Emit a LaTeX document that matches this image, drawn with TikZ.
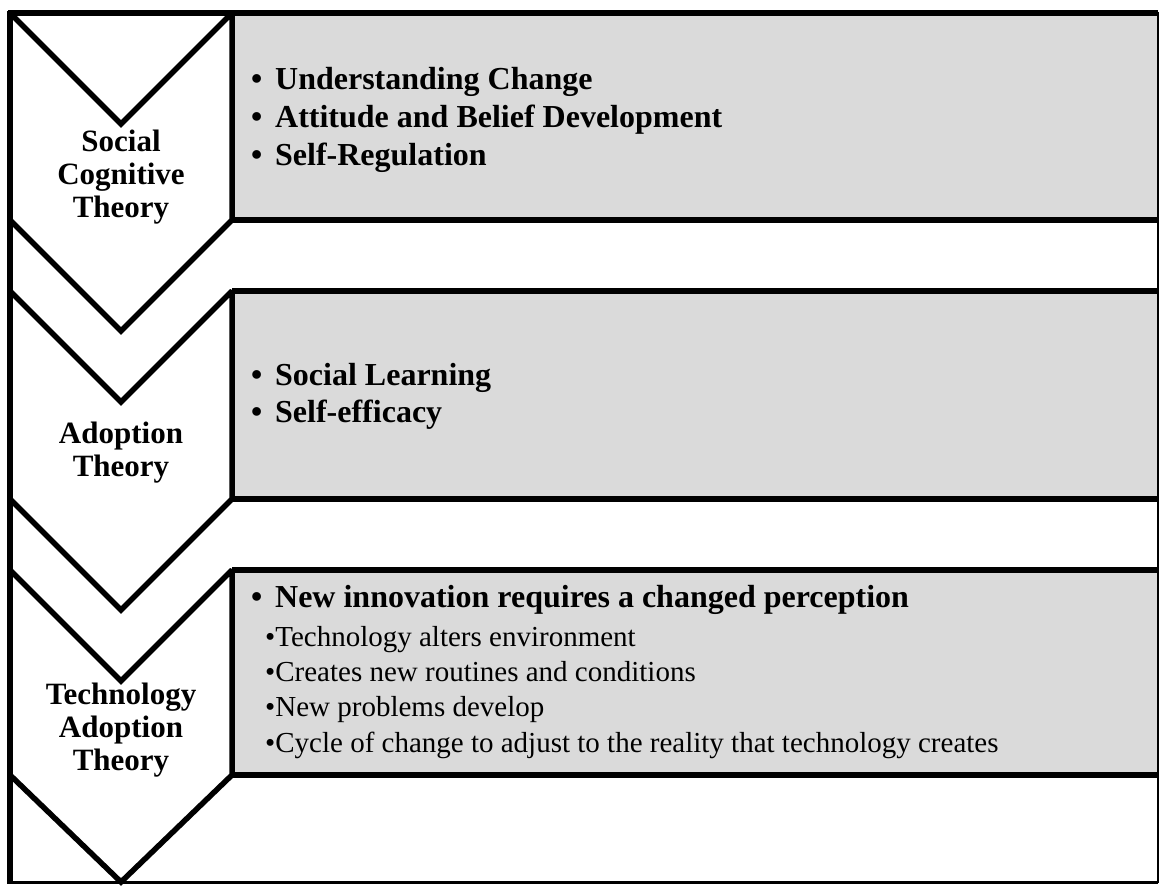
\documentclass[tikz,border=0pt]{standalone}
\usepackage{fontspec}
\setmainfont{Liberation Serif}
\definecolor{boxgray}{RGB}{218,218,218}
\begin{document}
\begin{tikzpicture}[x=1pt,y=-1pt,
  heavy/.style={line width=5.5pt},
  chev/.style={heavy,draw=black,fill=white,line join=miter,miter limit=2},
  graybox/.style={fill=boxgray,draw=none},
  lbl/.style={font=\fontsize{31}{33}\selectfont\bfseries,align=center,inner sep=0pt},
  bt/.style={font=\fontsize{32}{38}\selectfont\bfseries,anchor=base west,inner sep=0pt},
  rt/.style={font=\fontsize{29}{35}\selectfont,anchor=base west,inner sep=0pt}]
\useasboundingbox (0,0) rectangle (1160,886);
\fill[white] (0,0) rectangle (1160,886);
% gray boxes
\path[graybox] (232,13) rectangle (1158,220);
\path[graybox] (232,291) rectangle (1158,499);
\path[graybox] (232,570) rectangle (1158,775);
\draw[heavy] (232,13) -- (1158,13);
\draw[heavy] (232,220) -- (1158,220);
\draw[heavy] (232,291) -- (1158,291);
\draw[heavy] (232,499) -- (1158,499);
\draw[heavy] (232,570) -- (1158,570);
\draw[heavy] (232,775) -- (1158,775);
% chevrons
\draw[chev] (10,13) -- (121,124) -- (232,13) -- (232,220) -- (121,331) -- (10,220) -- cycle;
\draw[chev] (10,291) -- (121,402) -- (232,291) -- (232,499) -- (121,610) -- (10,499) -- cycle;
\draw[chev] (10,570) -- (121,681) -- (232,570) -- (232,775) -- (121,882) -- (10,775) -- cycle;
% frame
\draw[heavy] (8,13) -- (234,13);
\draw[heavy] (10,11) -- (10,884);
\draw[line width=2pt] (1158,12) -- (1158,883);
\draw[line width=3pt] (10,882) -- (1158,882);
% labels
\node[lbl] (sct) at (121,177) {Social\\Cognitive\\Theory};
\node[lbl] (at) at (121,453) {Adoption\\Theory};
\node[lbl] (tat) at (121,730) {Technology\\Adoption\\Theory};
% box 1
\node[bt] (b1a) at (251,89) {\makebox[24pt][l]{•}Understanding Change};
\node[bt] (b1b) at (251,127) {\makebox[24pt][l]{•}Attitude and Belief Development};
\node[bt] (b1c) at (251,165) {\makebox[24pt][l]{•}Self-Regulation};
% box 2
\node[bt] (b2a) at (251,385) {\makebox[24pt][l]{•}Social Learning};
\node[bt] (b2b) at (251,422) {\makebox[24pt][l]{•}Self-efficacy};
% box 3
\node[bt] (b3a) at (251,607) {\makebox[24pt][l]{•}New innovation requires a changed perception};
\node[rt] (b3b) at (265,646) {•Technology alters environment};
\node[rt] (b3c) at (265,681) {•Creates new routines and conditions};
\node[rt] (b3d) at (265,716) {•New problems develop};
\node[rt] (b3e) at (265,752) {•Cycle of change to adjust to the reality that technology creates};
\end{tikzpicture}
\end{document}
